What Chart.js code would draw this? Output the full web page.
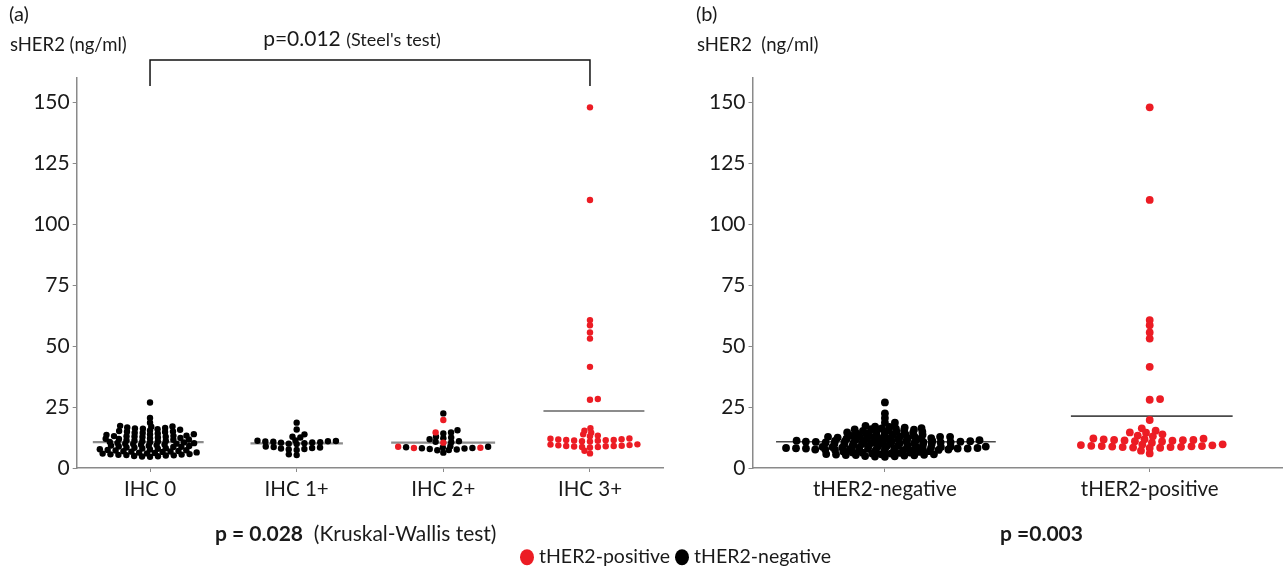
<!DOCTYPE html>
<html>
<head>
<meta charset="utf-8">
<script src="https://cdn.jsdelivr.net/npm/chart.js@4.4.1/dist/chart.umd.min.js"></script>
<style>
  html, body { margin: 0; padding: 0; background: #fff; overflow: hidden; width: 1283px; height: 568px; }
  body { position: relative; font-family: Lato, "Open Sans", sans-serif; color: #1a1a1a; }
  canvas { position: absolute; top: 0; }
  .t { position: absolute; white-space: nowrap; transform: translateY(-50%); line-height: 1; }
  .c { transform: translate(-50%, -50%); }
  .dot { display: inline-block; width: 14px; height: 16px; border-radius: 50%; vertical-align: -2px; }
</style>
</head>
<body>
<canvas id="left" width="670" height="568" style="left:0;width:670px;height:568px"></canvas>
<canvas id="right" width="606" height="568" style="left:680px;width:606px;height:568px"></canvas>

<div class="t" style="left:9px;top:13px;font-size:20px">(a)</div>
<div class="t" style="left:10px;top:44px;font-size:18.5px">sHER2 (ng/ml)</div>
<div class="t c" style="left:352px;top:37px;font-size:21px">p=0.012 <span style="font-size:18px">(Steel's test)</span></div>
<div class="t" style="left:696px;top:13px;font-size:20px">(b)</div>
<div class="t" style="left:697px;top:44px;font-size:18.5px">sHER2&nbsp;&nbsp;(ng/ml)</div>
<div class="t" style="left:215px;top:532px;font-size:21px"><b style="font-size:21px">p = 0.028</b>&nbsp; (Kruskal-Wallis test)</div>
<div class="t" style="left:1000px;top:532px;font-size:21px"><b>p =0.003</b></div>
<div class="t" style="left:520px;top:556px;font-size:19.5px"><span class="dot" style="background:#ec1c24"></span> tHER2-positive <span class="dot" style="background:#000"></span> tHER2-negative</div>

<script>
// ---------- data (ng/ml) ----------
const ihcCategories = ['IHC 0', 'IHC 1+', 'IHC 2+', 'IHC 3+'];
const tCategories = ['tHER2-negative', 'tHER2-positive'];
const yTicks = [0, 25, 50, 75, 100, 125, 150];

const ihc0Negative = [26.9, 20.5, 18.6, 17.3, 17.0, 16.9, 16.6, 16.4, 16.2, 16.1, 15.9, 15.7, 15.4, 15.2,
  15.0, 14.9, 14.8, 14.5, 14.4, 14.2, 13.9, 13.8, 13.6, 13.3, 13.2, 13.1, 13.0, 12.9, 12.8, 12.7, 12.5,
  12.3, 12.2, 12.0, 11.9, 11.7, 11.6, 11.4, 11.3, 11.1, 11.0, 10.9, 10.7, 10.6, 10.5, 10.3, 10.2, 10.0,
  9.9, 9.8, 9.6, 9.5, 9.4, 9.2, 9.1, 9.0, 8.8, 8.7, 8.6, 8.4, 8.3, 8.1, 8.0, 7.9, 7.7, 7.6, 7.4, 7.3,
  7.2, 7.0, 6.9, 6.8, 6.7, 6.6, 6.4, 6.3, 6.2, 6.0, 5.9, 5.7, 5.6, 5.5, 5.4, 5.3, 5.2, 5.1, 4.9, 4.8, 4.7, 4.6];
const ihc1Negative = [18.6, 15.8, 13.8, 12.8, 12.5, 11.3, 11.2, 11.1, 11.0, 10.9, 10.8, 10.6, 10.5, 10.4,
  10.2, 10.0, 9.8, 8.8, 8.6, 8.4, 8.2, 8.0, 7.8, 7.6, 7.4, 5.6, 5.3];
const ihc2Negative = [22.4, 15.5, 14.6, 14.2, 12.8, 12.5, 12.2, 11.8, 11.0, 10.8, 10.6, 8.9, 8.7, 8.5,
  8.4, 8.2, 8.1, 8.0, 7.8, 7.6, 7.4, 7.3, 6.3];
const ihc2Positive = [19.7, 14.6, 10.4, 8.7, 8.3, 8.2];
const ihc3Positive = [148, 110, 60.7, 58.6, 55.6, 53.1, 41.5, 28.3, 28.0,
  16.3, 15.3, 14.5, 13.8, 13.3, 13.0, 12.1, 12.0, 11.8, 11.7, 11.5, 11.5, 11.4, 11.3, 11.2, 11.0, 10.9,
  9.7, 9.6, 9.4, 9.3, 9.1, 9.0, 9.0, 8.9, 8.8, 8.6, 8.6, 8.4, 7.1, 6.0];
const ihcMeans = [10.6, 10.1, 10.4, 23.4];
const tMeans = [10.8, 21.3];

// ---------- styling ----------
const RED = '#ec1c24', BLACK = '#000000', AXIS = '#8a8a8a';
const FONT = 'Lato, "Open Sans", sans-serif';

// beeswarm layout (elliptical collision: sx horizontal, sy vertical, in px)
const swarmPlugin = {
  id: 'swarm',
  afterDatasetsUpdate(chart) {
    const o = chart.options.plugins.swarm;
    const xs = chart.scales.x;
    const groups = new Map();
    chart.data.datasets.forEach((ds, di) => {
      if (ds.role !== 'dots') return;
      const meta = chart.getDatasetMeta(di);
      meta.data.forEach((el, j) => {
        const p = meta._parsed[j];
        if (!groups.has(p.x)) groups.set(p.x, { sy: ds.swarmSy || o.sy, sx: ds.swarmSx || o.sx, pts: [] });
        groups.get(p.x).pts.push({ el, v: p.y, y: el.y });
      });
    });
    const ext = new Map();
    groups.forEach((g, cat) => {
      const pts = g.pts, sx = g.sx, sy = g.sy;
      pts.sort((a, b) => a.v - b.v);
      const cx = xs.getPixelForValue(cat);
      const placed = [];
      let lo = 0, hi = 0;
      pts.forEach((p, idx) => {
        const cands = [0];
        placed.forEach(q => {
          const dy = (p.y - q.y) / sy;
          if (Math.abs(dy) < 1) {
            const dx = sx * Math.sqrt(1 - dy * dy);
            cands.push(q.x + dx, q.x - dx);
          }
        });
        const sgn = idx % 2 ? 1 : -1;
        cands.sort((a, b) => (Math.abs(a) - Math.abs(b)) || (sgn * (a - b)));
        let best = 0;
        for (const c of cands) {
          let ok = true;
          for (const q of placed) {
            const ex = (c - q.x) / sx, ey = (p.y - q.y) / sy;
            if (ex * ex + ey * ey < 1 - 1e-6) { ok = false; break; }
          }
          if (ok) { best = c; break; }
        }
        placed.push({ x: best, y: p.y });
        p.el.x = cx + best;
        lo = Math.min(lo, best); hi = Math.max(hi, best);
      });
      ext.set(cat, [cx + lo, cx + hi]);
    });
    chart.data.datasets.forEach((ds, di) => {
      if (ds.role !== 'mean') return;
      const meta = chart.getDatasetMeta(di);
      const e = ext.get(meta._parsed[0].x);
      if (!e) return;
      meta.data[0].x = e[0] - o.linePad;
      meta.data[1].x = e[1] + o.linePad;
    });
  }
};

function dots(cats, idx, values, color, r, extra) {
  return Object.assign({ role: 'dots', type: 'scatter', order: color === RED ? 0 : 1,
    data: values.map(v => ({ x: cats[idx], y: v })),
    backgroundColor: color, borderWidth: 0, pointRadius: r, pointHoverRadius: r }, extra || {});
}
function meanLine(cats, idx, m, color, w) {
  return { role: 'mean', type: 'line', order: 2,
    data: [{ x: cats[idx], y: m }, { x: cats[idx], y: m }],
    borderColor: color, borderWidth: w, pointRadius: 0, fill: false };
}

function makeOptions(cats, yWidth, pad, swarm) {
  return {
    responsive: false, devicePixelRatio: 1, animation: false,
    layout: { padding: pad },
    plugins: { legend: { display: false }, tooltip: { enabled: false }, swarm },
    scales: {
      x: { type: 'category', labels: cats, offset: true,
        grid: { display: true, drawOnChartArea: false, drawTicks: true, tickLength: 4, color: AXIS, offset: false },
        border: { color: AXIS, width: 1.5 },
        ticks: { color: '#1a1a1a', font: { family: FONT, size: 20.5 }, padding: 5 },
        afterFit: s => { s.height = 40; } },
      y: { type: 'linear', min: 0, max: 160,
        grid: { display: true, drawOnChartArea: false, drawTicks: true, tickLength: 4, color: AXIS },
        border: { color: AXIS, width: 1.5 },
        ticks: { color: '#1a1a1a', font: { family: FONT, size: 21 }, padding: 3 },
        afterBuildTicks: s => { s.ticks = yTicks.map(v => ({ value: v })); },
        afterFit: s => { s.width = yWidth; } }
    }
  };
}

// ---------- panel (a) ----------
const leftSets = [
  dots(ihcCategories, 0, ihc0Negative, BLACK, 3.2),
  dots(ihcCategories, 1, ihc1Negative, BLACK, 3.2),
  dots(ihcCategories, 2, ihc2Negative, BLACK, 3.2),
  dots(ihcCategories, 2, ihc2Positive, RED, 3.2),
  dots(ihcCategories, 3, ihc3Positive, RED, 3.2),
  ...ihcMeans.map((m, i) => meanLine(ihcCategories, i, m, '#8c8c8c', 2.2)),
  { role: 'bracket', type: 'line', order: 3, clip: false,
    data: [{ x: 'IHC 0', y: 156.8 }, { x: 'IHC 0', y: 167.4 }, { x: 'IHC 3+', y: 167.4 }, { x: 'IHC 3+', y: 156.8 }],
    borderColor: '#111', borderWidth: 1.5, pointRadius: 0, fill: false }
];
new Chart(document.getElementById('left'), {
  type: 'scatter',
  data: { datasets: leftSets },
  options: makeOptions(ihcCategories, 76.7, { left: 0, top: 78.1, right: 6.7, bottom: 60 },
    { sx: 8, sy: 3.7, linePad: 7 }),
  plugins: [swarmPlugin]
});

// ---------- panel (b) ----------
const tNegative = ihc0Negative.concat(ihc1Negative, ihc2Negative);
const tPositive = ihc2Positive.concat(ihc3Positive);
const rightSets = [
  dots(tCategories, 0, tNegative, BLACK, 3.9),
  dots(tCategories, 1, tPositive, RED, 3.9, { swarmSy: 4.8, swarmSx: 10.5 }),
  meanLine(tCategories, 0, tMeans[0], '#4a4a4a', 1.6),
  meanLine(tCategories, 1, tMeans[1], '#4a4a4a', 1.6)
];
new Chart(document.getElementById('right'), {
  type: 'scatter',
  data: { datasets: rightSets },
  options: makeOptions(tCategories, 72.5, { left: 0, top: 78.1, right: 0.5, bottom: 60 },
    { sx: 10, sy: 2.6, linePad: 10 }),
  plugins: [swarmPlugin]
});
</script>
</body>
</html>
